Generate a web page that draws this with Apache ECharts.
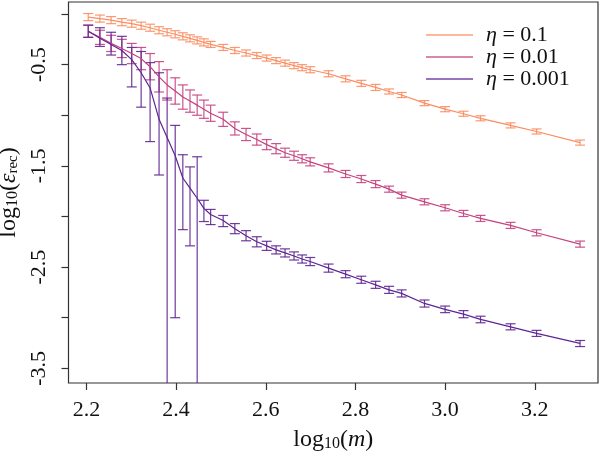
<!DOCTYPE html>
<html><head><meta charset="utf-8">
<script src="https://cdn.jsdelivr.net/npm/echarts@6/dist/echarts.min.js"></script>
<style>html,body{margin:0;padding:0;background:#fff}#c{width:600px;height:460px}</style>
</head><body><div id="c"></div>
<script>
// log10(m) positions
const xs = [2.204, 2.230, 2.255, 2.279, 2.301, 2.322, 2.342, 2.362, 2.380, 2.398, 2.415, 2.431, 2.447, 2.462, 2.477, 2.505, 2.531, 2.556, 2.580, 2.602, 2.623, 2.643, 2.663, 2.681, 2.699, 2.740, 2.778, 2.813, 2.845, 2.875, 2.903, 2.954, 3.000, 3.041, 3.079, 3.146, 3.204, 3.301];
// eta = 0.1
const orangeMean = [-0.03,-0.045,-0.06,-0.08,-0.095,-0.115,-0.135,-0.16,-0.18,-0.20,-0.22,-0.24,-0.26,-0.28,-0.30,-0.33,-0.36,-0.385,-0.41,-0.435,-0.46,-0.485,-0.51,-0.53,-0.55,-0.59,-0.64,-0.685,-0.725,-0.765,-0.80,-0.88,-0.94,-0.985,-1.03,-1.10,-1.16,-1.27];
const orangeErr = [0.035,0.035,0.035,0.035,0.035,0.035,0.035,0.035,0.035,0.035,0.035,0.035,0.035,0.035,0.03,0.03,0.03,0.03,0.03,0.03,0.03,0.03,0.03,0.03,0.03,0.03,0.03,0.03,0.03,0.025,0.025,0.025,0.025,0.025,0.025,0.025,0.025,0.025];
// eta = 0.01
const pinkMean = [-0.17,-0.23,-0.29,-0.34,-0.39,-0.44,-0.52,-0.62,-0.70,-0.76,-0.82,-0.86,-0.90,-0.94,-0.98,-1.04,-1.13,-1.19,-1.24,-1.29,-1.33,-1.37,-1.40,-1.43,-1.46,-1.52,-1.58,-1.63,-1.68,-1.73,-1.789,-1.855,-1.914,-1.97,-2.019,-2.088,-2.161,-2.273];
const pinkErr = [0.06,0.07,0.08,0.09,0.10,0.11,0.13,0.15,0.15,0.13,0.12,0.11,0.10,0.09,0.08,0.07,0.065,0.06,0.055,0.05,0.05,0.045,0.045,0.04,0.04,0.04,0.035,0.035,0.035,0.03,0.03,0.03,0.03,0.03,0.03,0.03,0.03,0.03];
// eta = 0.001
const purpleMean = [-0.17,-0.24,-0.30,-0.36,-0.45,-0.58,-0.73,-1.04,-1.22,-1.40,-1.62,-1.72,-1.82,-1.92,-1.98,-2.04,-2.12,-2.19,-2.25,-2.29,-2.33,-2.36,-2.39,-2.42,-2.445,-2.51,-2.57,-2.625,-2.675,-2.725,-2.76,-2.859,-2.918,-2.964,-3.017,-3.09,-3.155,-3.254];
const purpleHi = [-0.11,-0.135,-0.18,-0.22,-0.33,-0.37,-0.48,-0.58,-0.83,-1.10,-1.39,-1.51,-1.41,-1.84,-1.93,-1.99,-2.07,-2.14,-2.20,-2.245,-2.29,-2.32,-2.35,-2.38,-2.405,-2.47,-2.535,-2.59,-2.64,-2.69,-2.725,-2.825,-2.885,-2.93,-2.985,-3.06,-3.125,-3.225];
const purpleLo = [-0.23,-0.32,-0.405,-0.50,-0.72,-0.92,-1.26,-1.59,null,-3.00,-2.13,-2.29,null,-2.05,-2.08,-2.10,-2.17,-2.24,-2.30,-2.335,-2.37,-2.40,-2.43,-2.46,-2.485,-2.55,-2.605,-2.66,-2.71,-2.76,-2.795,-2.895,-2.95,-3.0,-3.05,-3.12,-3.185,-3.285];

const xTicks = [2.2, 2.4, 2.6, 2.8, 3.0, 3.2];
const yTicks = [0, -0.5, -1, -1.5, -2, -2.5, -3, -3.5];
const yLabels = [-0.5, -1.5, -2.5, -3.5];
const names = ['0.1', '0.01', '0.001'];
const colors = ['#FB8D62', '#C4427F', '#5E2592'];

const FONT = 'Liberation Serif';

const bounds = [
  { hi: orangeMean.map((v, i) => v + orangeErr[i]), lo: orangeMean.map((v, i) => v - orangeErr[i]) },
  { hi: pinkMean.map((v, i) => v + pinkErr[i]), lo: pinkMean.map((v, i) => v - pinkErr[i]) },
  { hi: purpleHi, lo: purpleLo }
];
const means = [orangeMean, pinkMean, purpleMean];

function errSeries(k) {
  return {
    type: 'custom',
    data: xs.map((x, i) => [x, means[k][i]]),
    z: 2,
    renderItem: function (params, api) {
      const i = params.dataIndex;
      const cs = params.coordSys;
      const x = api.value(0);
      const hi = bounds[k].hi[i], lo = bounds[k].lo[i];
      const pHi = api.coord([x, hi]);
      const bottom = cs.y + cs.height, top = cs.y;
      let yLo = lo === null ? bottom + 1 : api.coord([x, lo])[1];
      let yHi = Math.max(top, pHi[1]);
      const showLoCap = lo !== null && yLo <= bottom;
      yLo = Math.min(bottom, yLo);
      const cx = pHi[0];
      const hw = 5;
      const st = { stroke: colors[k], lineWidth: 1.2, opacity: 0.9 };
      const children = [
        { type: 'line', shape: { x1: cx, y1: yHi, x2: cx, y2: yLo }, style: st },
        { type: 'line', shape: { x1: cx - hw, y1: yHi, x2: cx + hw, y2: yHi }, style: st }
      ];
      if (showLoCap) children.push({ type: 'line', shape: { x1: cx - hw, y1: yLo, x2: cx + hw, y2: yLo }, style: st });
      return { type: 'group', children };
    }
  };
}

function lineSeries(k) {
  return {
    type: 'line', name: names[k],
    data: xs.map((x, i) => [x, means[k][i]]),
    showSymbol: false, symbol: 'none', z: 3,
    color: colors[k],
    lineStyle: { color: colors[k], width: 1.2 },
    emphasis: { disabled: true }
  };
}

const subStyle = { fontFamily: FONT, fontSize: 16, verticalAlign: 'bottom', lineHeight: 16, padding: [10, 0, 0, 0], color: '#111' };
const chart = echarts.init(document.getElementById('c'), null, { renderer: 'canvas' });
chart.setOption({
  animation: false,
  backgroundColor: '#fff',
  grid: { left: 68.5, right: 2, top: 2, bottom: 77, show: true, borderColor: '#333', borderWidth: 1.2, containLabel: false, outerBoundsMode: 'none' },
  legend: {
    data: names, orient: 'vertical', left: 421, top: 19, itemWidth: 47, itemHeight: 1.6, itemGap: 0, itemStyle: { opacity: 0.85 },
    icon: 'rect',
    formatter: n => '{i|η} = ' + n,
    textStyle: { fontFamily: FONT, fontSize: 22, color: '#111', lineHeight: 20.6, padding: [0, 0, 0, 8], rich: { i: { fontFamily: FONT, fontStyle: 'italic', fontSize: 22 } } }
  },
  xAxis: {
    type: 'value', min: 2.16, max: 3.341,
    axisLine: { show: false, onZero: false },
    splitLine: { show: false },
    axisTick: { show: true, length: 7, customValues: xTicks, lineStyle: { color: '#333', width: 1.2 } },
    axisLabel: { customValues: xTicks, formatter: v => v.toFixed(1), fontFamily: FONT, fontSize: 22, color: '#111', margin: 16 },
    name: 'log{s|10}({i|m})', nameLocation: 'middle', nameGap: 44,
    nameTextStyle: { fontFamily: FONT, fontSize: 24, color: '#111', rich: { s: subStyle, i: { fontFamily: FONT, fontStyle: 'italic', fontSize: 24 } } }
  },
  yAxis: {
    type: 'value', min: -3.645, max: 0.119,
    axisLine: { show: false, onZero: false },
    splitLine: { show: false },
    axisTick: { show: true, length: 7, customValues: yTicks, lineStyle: { color: '#333', width: 1.2 } },
    axisLabel: { customValues: yLabels, formatter: v => v.toFixed(1), rotate: 90, fontFamily: FONT, fontSize: 22, color: '#111', margin: 18 },
    name: 'log{s|10}({i|ε}{r|rec})', nameLocation: 'middle', nameGap: 44, nameRotate: 90,
    nameTextStyle: { fontFamily: FONT, fontSize: 24, color: '#111', rich: { s: subStyle, r: Object.assign({}, subStyle, { fontSize: 15 }), i: { fontFamily: FONT, fontStyle: 'italic', fontSize: 24 } } }
  },
  series: [errSeries(0), errSeries(1), errSeries(2), lineSeries(0), lineSeries(1), lineSeries(2)]
});
</script></body></html>
